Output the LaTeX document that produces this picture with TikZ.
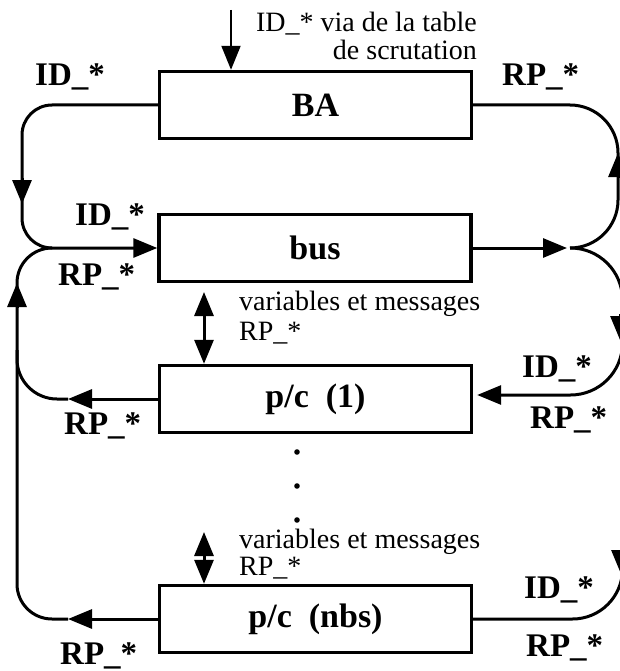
\documentclass[tikz,border=0pt]{standalone}
\usepackage{fontspec}
\setmainfont{Liberation Serif}
\usetikzlibrary{arrows.meta}
\begin{document}
\begin{tikzpicture}[x=1pt,y=-1pt,
  conn/.style={line width=3pt},
  thinconn/.style={line width=2pt},
  box/.style={draw, line width=3.4pt, minimum width=312pt, minimum height=67pt, inner sep=0pt, font=\bfseries\fontsize{34}{34}\selectfont},
  lbl/.style={font=\bfseries\fontsize{33}{33}\selectfont, inner sep=0pt, anchor=base west},
  txt/.style={font=\fontsize{28}{28}\selectfont, inner sep=0pt},
  tip/.style={-{Triangle[length=24pt,width=19pt]}},
  dbl/.style={{Triangle[length=24pt,width=19pt]}-{Triangle[length=24pt,width=19pt]}},
]
\useasboundingbox (0,0) rectangle (619,671);
\fill[white] (0,0) rectangle (619,671);

% boxes
\node[box] (BA) at (315.5,105) {BA};
\node[box] (bus) at (315,248) {bus};
\node[box] (pc1) at (315.5,399) {p/c~~(1)};
\node[box] (pcn) at (315.5,619) {p/c~~(nbs)};

% top input
\coordinate (top) at (231,10);
\draw[thinconn, tip] (top) -- (top |- BA.north);
\node[txt, anchor=base east] (t1) at (477,32) {ID\_* via de la table};
\node[txt, anchor=base east] (t2) at (477,60) {de scrutation};

% left side
\coordinate (mL) at (52,248);
\draw[conn, rounded corners=30pt, tip] (BA.west) -| (22,248) -- (bus.west);
\draw[conn, tip] (22,178) -- (22,204);
\draw[conn, rounded corners=35pt] (mL) -| (17,619) -- (68,619);
\draw[conn, tip] (17,308) -- (17,283);
\draw[conn, rounded corners=40pt] (68,399) -| (17,350);
\draw[conn, tip] (pc1.west) -- (68,399);
\draw[conn, tip] (pcn.west) -- (68,619);

% right side
\coordinate (mR) at (570,248);
\coordinate (r1) at (622.5,395);
\draw[conn, rounded corners=48pt] (BA.east) -| (618,248) -- (mR);
\draw[conn, tip] (618,178) -- (618,153);
\draw[conn, tip] (bus.east) -- (567,248);
\draw[conn, rounded corners=52pt, tip, shorten >=4pt] (mR) -| (r1) -- (pc1.east |- r1);
\draw[conn, tip] (620,314) -- (620,340);
\draw[conn, rounded corners=50pt] (pcn.east) -| (r1);
\draw[conn, tip] (621,548) -- (621,574);

% double arrows
\coordinate (d1) at (204,292);
\draw[conn, dbl] (d1) -- (d1 |- pc1.north);
\coordinate (d2) at (204,532);
\draw[conn, dbl] (d2) -- (d2 |- pcn.north);
\node[txt, anchor=base west] (v1) at (239,310) {variables et messages};
\node[txt, anchor=base west] (v1b) at (239,340) {RP\_*};
\node[txt, anchor=base west] (v2) at (239,548) {variables et messages};
\node[txt, anchor=base west] (v2b) at (239,575) {RP\_*};

% dots
\fill (297,452) circle (2.8pt);
\fill (297,486) circle (2.8pt);
\fill (297,520) circle (2.8pt);

% labels
\node[lbl] (l1) at (35,86) {ID\_*};
\node[lbl] (l2) at (502,86) {RP\_*};
\node[lbl] (l3) at (75,225) {ID\_*};
\node[lbl] (l4) at (58,285) {RP\_*};
\node[lbl] (l5) at (522,377) {ID\_*};
\node[lbl] (l6) at (530,428) {RP\_*};
\node[lbl] (l7) at (64,434) {RP\_*};
\node[lbl] (l8) at (524,598) {ID\_*};
\node[lbl] (l9) at (526,656) {RP\_*};
\node[lbl] (l10) at (60,664) {RP\_*};
\end{tikzpicture}
\end{document}
